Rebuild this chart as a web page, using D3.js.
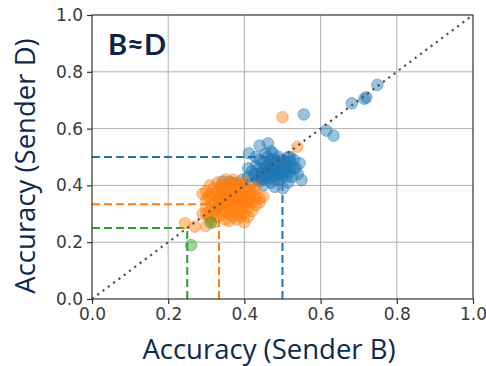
<!DOCTYPE html>
<html>
<head>
<meta charset="utf-8">
<script src="https://cdn.jsdelivr.net/npm/d3@7"></script>
<style>
  html, body { margin: 0; padding: 0; background: #fff; }
  svg { display: block; }
</style>
</head>
<body>
<svg id="chart" width="486" height="366"></svg>
<script>
// Axis ticks
const xTicks = [0, 0.2, 0.4, 0.6, 0.8, 1.0];
const yTicks = [0, 0.2, 0.4, 0.6, 0.8, 1.0];

// Chance levels for each group (1/2, 1/3, 1/4)
const chanceLevels = [0.5, 1 / 3, 0.25];
const groupColors = ["#1f77b4", "#ff7f0e", "#2ca02c"];

// Accuracy pairs [Sender B, Sender D]
const blueRuns = [
  [0.749,0.754],[0.715,0.705],[0.72,0.71],[0.682,0.689],[0.556,0.650],[0.615,0.593],[0.634,0.575],
  [0.44,0.54],[0.462,0.548],[0.412,0.513],[0.475,0.513],[0.545,0.478],[0.55,0.419],[0.501,0.39],
  [0.362,0.413],[0.343,0.413],[0.37,0.407],[0.52,0.5],[0.535,0.46],[0.54,0.44],[0.53,0.49],
  [0.395,0.42],[0.38,0.40],[0.41,0.43],[0.42,0.41],[0.45,0.40],[0.48,0.395],[0.515,0.41],[0.525,0.43],
  [0.43,0.44],[0.44,0.46],[0.45,0.45],[0.46,0.47],[0.47,0.46],[0.48,0.48],[0.49,0.47],[0.50,0.46],
  [0.51,0.48],[0.47,0.44],[0.46,0.43],[0.49,0.44],[0.50,0.43],[0.48,0.42],[0.45,0.48],[0.47,0.49],
  [0.49,0.50],[0.51,0.45],[0.52,0.47],[0.44,0.43],[0.43,0.47],[0.46,0.50],[0.48,0.45],[0.50,0.49],
  [0.45,0.42],[0.47,0.41],[0.49,0.42],[0.51,0.43],[0.52,0.45],[0.44,0.49],[0.42,0.45],[0.46,0.45],
  [0.48,0.47],[0.50,0.45],[0.53,0.46],[0.455,0.44],[0.475,0.435],[0.485,0.46],[0.465,0.48],
  [0.495,0.48],[0.505,0.47],[0.435,0.42],[0.425,0.44],[0.515,0.5],[0.455,0.51],[0.47,0.52],
  [0.43,0.5],[0.41,0.46],
  [0.465,0.455],[0.475,0.465],[0.485,0.475],[0.495,0.465],[0.505,0.455],[0.475,0.45],[0.49,0.455],
  [0.46,0.44],[0.47,0.475],[0.48,0.49],[0.5,0.475],[0.51,0.46],[0.485,0.44],[0.455,0.465],
  [0.445,0.445],[0.52,0.485],[0.495,0.435],[0.465,0.425],[0.44,0.415],[0.455,0.43]
];

const orangeRuns = [
  [0.50,0.64],[0.539,0.536],
  [0.244,0.267],[0.27,0.255],[0.299,0.257],[0.31,0.28],[0.29,0.30],
  [0.30,0.38],[0.31,0.40],[0.32,0.39],[0.33,0.41],[0.34,0.40],[0.35,0.42],[0.36,0.41],[0.37,0.42],
  [0.38,0.41],[0.39,0.40],[0.30,0.35],[0.31,0.36],[0.32,0.34],[0.33,0.36],[0.34,0.37],[0.35,0.38],
  [0.36,0.37],[0.37,0.39],[0.38,0.38],[0.39,0.37],[0.40,0.39],[0.41,0.38],[0.30,0.32],[0.31,0.31],
  [0.32,0.30],[0.33,0.32],[0.34,0.33],[0.35,0.34],[0.36,0.35],[0.37,0.36],[0.38,0.35],[0.39,0.34],
  [0.40,0.36],[0.41,0.35],[0.42,0.37],[0.43,0.36],[0.44,0.355],[0.45,0.36],[0.31,0.29],[0.33,0.29],
  [0.34,0.30],[0.35,0.31],[0.36,0.32],[0.37,0.33],[0.38,0.32],[0.39,0.31],[0.40,0.33],[0.41,0.32],
  [0.42,0.34],[0.43,0.33],[0.44,0.34],[0.35,0.28],[0.37,0.29],[0.38,0.28],[0.39,0.29],[0.40,0.30],
  [0.41,0.29],[0.42,0.31],[0.36,0.30],[0.34,0.35],[0.33,0.38],[0.32,0.37],[0.355,0.355],[0.365,0.345],
  [0.375,0.37],[0.385,0.36],[0.395,0.355],[0.345,0.325],[0.325,0.315],[0.405,0.345],[0.415,0.365],
  [0.425,0.385],[0.395,0.385],[0.375,0.395],[0.355,0.395],[0.335,0.345],[0.315,0.33],[0.305,0.36],
  [0.345,0.365],[0.36,0.385],[0.39,0.32],[0.43,0.39],[0.40,0.41],[0.29,0.37],[0.30,0.30],
  [0.32,0.27],[0.36,0.275],[0.40,0.27],
  [0.365,0.36],[0.375,0.35],[0.385,0.345],[0.355,0.34],[0.345,0.35],[0.37,0.31],[0.38,0.30],
  [0.35,0.36],[0.36,0.355],[0.39,0.36],[0.33,0.33],[0.34,0.39],[0.38,0.395],[0.41,0.34]
];

const greenRuns = [[0.312,0.269],[0.26,0.19]];

const svg = d3.select("#chart");
const plotL = 92, plotR = 473, plotT = 15, plotB = 299;

const x = d3.scaleLinear().domain([0, 1]).range([plotL, plotR]);
const y = d3.scaleLinear().domain([0, 1]).range([plotB, plotT]);

// Grid
const grid = svg.append("g").attr("stroke", "#b0b0b0").attr("stroke-width", 1);
grid.selectAll("line.gx").data(xTicks.slice(1, -1)).join("line")
  .attr("x1", d => x(d)).attr("x2", d => x(d)).attr("y1", plotT).attr("y2", plotB);
grid.selectAll("line.gy").data(yTicks.slice(1, -1)).join("line")
  .attr("y1", d => y(d)).attr("y2", d => y(d)).attr("x1", plotL).attr("x2", plotR);

// Chance-level guides
const guides = svg.append("g").attr("fill", "none").attr("stroke-width", 2).attr("stroke-dasharray", "8,4");
chanceLevels.forEach((c, i) => {
  guides.append("path")
    .attr("stroke", groupColors[i])
    .attr("d", `M${x(0)},${y(c)}H${x(c)}`);
  guides.append("path")
    .attr("stroke", groupColors[i])
    .attr("d", `M${x(c)},${y(0)}V${y(c)}`);
});

// Points
function drawRuns(data, color) {
  svg.append("g").selectAll("circle").data(data).join("circle")
    .attr("cx", d => x(d[0])).attr("cy", d => y(d[1])).attr("r", 5.8)
    .attr("fill", color).attr("fill-opacity", 0.45)
    .attr("stroke", color).attr("stroke-opacity", 0.45).attr("stroke-width", 1);
}
drawRuns(blueRuns, groupColors[0]);
drawRuns(orangeRuns, groupColors[1]);
drawRuns(greenRuns, groupColors[2]);

// Identity line
svg.append("line")
  .attr("x1", x(0)).attr("y1", y(0)).attr("x2", x(1)).attr("y2", y(1))
  .attr("stroke", "#505050").attr("stroke-width", 2.2)
  .attr("stroke-dasharray", "2.2,4.4");

// Axes
const xAxis = svg.append("g").attr("transform", `translate(0,${plotB})`)
  .call(d3.axisBottom(x).tickValues(xTicks).tickFormat(d3.format(".1f")).tickSize(5).tickPadding(4));
const yAxis = svg.append("g").attr("transform", `translate(${plotL},0)`)
  .call(d3.axisLeft(y).tickValues(yTicks).tickFormat(d3.format(".1f")).tickSize(5).tickPadding(4));
[xAxis, yAxis].forEach(a => {
  a.select(".domain").remove();
  a.selectAll(".tick line").attr("stroke", "#333").attr("stroke-width", 1.2);
  a.selectAll(".tick text").attr("font-family", "DejaVu Sans").attr("font-size", 17).attr("fill", "#3a3a3a");
});

// Frame
svg.append("rect")
  .attr("x", plotL).attr("y", plotT).attr("width", plotR - plotL).attr("height", plotB - plotT)
  .attr("fill", "none").attr("stroke", "#333").attr("stroke-width", 1.2);

// Titles
svg.append("text")
  .attr("x", 108).attr("y", 55)
  .attr("font-family", "Lato").attr("font-weight", "bold").attr("font-size", 29)
  .attr("fill", "#0d2447").text("B≈D");

svg.append("text")
  .attr("x", 269).attr("y", 359).attr("text-anchor", "middle")
  .attr("font-family", "Open Sans").attr("font-size", 27.5)
  .attr("fill", "#0d2a4a").text("Accuracy (Sender B)");

svg.append("text")
  .attr("transform", "translate(35,166) rotate(-90)").attr("text-anchor", "middle")
  .attr("font-family", "Open Sans").attr("font-size", 27.5)
  .attr("fill", "#0d2a4a").text("Accuracy (Sender D)");
</script>
</body>
</html>
